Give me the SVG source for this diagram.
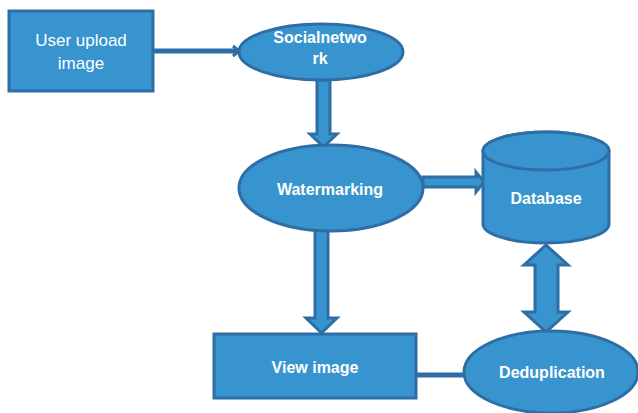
<svg xmlns="http://www.w3.org/2000/svg" width="638" height="413" viewBox="0 0 638 413">
<style>
.s{fill:#3794CE;stroke:#2F6EA5;stroke-width:3}
.t{font-family:"Liberation Sans",Arial,sans-serif;fill:#FFFFFF;text-anchor:middle}
.b{font-weight:bold;font-size:16px}
.ln{stroke:#2F6EA5;stroke-width:5;fill:none}
</style>
<rect width="638" height="413" fill="#FFFFFF"/>
<g id="connectors">
<line class="ln" x1="153" y1="51" x2="237" y2="51"/>
<polyline points="233,46 239,51 233,56" fill="none" stroke="#2F6EA5" stroke-width="3"/>
<line class="ln" x1="416" y1="375" x2="470" y2="375"/>
<polygon class="s" points="317,80 330,80 330,134 337,134 323.5,147 310,134 317,134"/>
<polygon class="s" points="423,177 476,177 476,172 484,182 476,192 476,187 423,187"/>
<polygon class="s" points="315,230 328,230 328,318 337,318 321.5,333 306,318 315,318"/>
<polygon class="s" points="546,245 568,265 558,265 558,312 568,312 546,332 524,312 535,312 535,265 524,265"/>
</g>
<g id="user-upload">
<rect class="s" x="9" y="11" width="144" height="80"/>
<text class="t" x="81" y="46" font-size="17">User upload</text>
<text class="t" x="81" y="69" font-size="17">image</text>
</g>
<g id="socialnetwork">
<ellipse class="s" cx="321" cy="52" rx="82" ry="28"/>
<text class="t b" x="320" y="43">Socialnetwo</text>
<text class="t b" x="320" y="64">rk</text>
</g>
<g id="watermarking">
<ellipse class="s" cx="331" cy="188" rx="92" ry="43"/>
<text class="t b" x="330" y="195">Watermarking</text>
</g>
<g id="database">
<path class="s" d="M483,151 L483,224 A63,19 0 0 0 609,224 L609,151 A63,19 0 0 0 483,151 Z"/>
<ellipse class="s" cx="546" cy="151" rx="63" ry="19"/>
<text class="t b" x="546" y="204">Database</text>
</g>
<g id="view-image">
<rect class="s" x="214" y="334" width="202" height="64"/>
<text class="t b" x="315" y="373">View image</text>
</g>
<g id="deduplication">
<ellipse class="s" cx="551" cy="372" rx="87" ry="41"/>
<text class="t b" x="552" y="378">Deduplication</text>
</g>
</svg>
